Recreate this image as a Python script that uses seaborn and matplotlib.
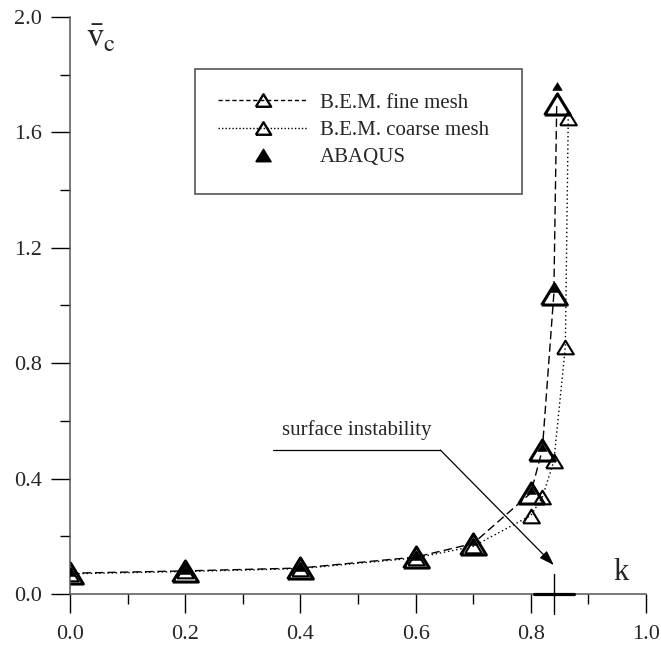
import numpy as np
import pandas as pd
import seaborn as sns
import matplotlib.pyplot as plt
from matplotlib.lines import Line2D
from matplotlib.patches import Rectangle

# values (k, normalised critical displacement)
k_fine = [0.0, 0.2, 0.4, 0.6, 0.7, 0.8, 0.82, 0.84, 0.845]
v_fine = [0.072, 0.080, 0.090, 0.128, 0.175, 0.350, 0.500, 1.040, 1.700]

k_coarse = [0.0, 0.2, 0.4, 0.6, 0.7, 0.8, 0.82, 0.84, 0.86, 0.865]
v_coarse = [0.070, 0.078, 0.088, 0.125, 0.165, 0.272, 0.335, 0.460, 0.857, 1.650]

k_abaqus = [0.0, 0.2, 0.4, 0.6, 0.7, 0.8, 0.82, 0.84, 0.845]
v_abaqus = [0.075, 0.082, 0.092, 0.132, 0.185, 0.360, 0.510, 1.060, 1.760]

k_instab = 0.84
labels = ['B.E.M. fine mesh', 'B.E.M. coarse mesh', 'ABAQUS']
xticks = [0.0, 0.2, 0.4, 0.6, 0.8, 1.0]
yticks = [0.0, 0.4, 0.8, 1.2, 1.6, 2.0]

sns.set_style('ticks')
plt.rcParams['font.family'] = ['Liberation Serif', 'DejaVu Serif']
plt.rcParams['mathtext.fontset'] = 'stix'

fine = pd.DataFrame({'k': k_fine, 'v': v_fine})
coarse = pd.DataFrame({'k': k_coarse, 'v': v_coarse})
abaqus = pd.DataFrame({'k': k_abaqus, 'v': v_abaqus})

# slightly wide triangle like the original plot
tri = [(-1.0, -0.82), (1.0, -0.82), (0.0, 0.82), (-1.0, -0.82)]

fig = plt.figure(figsize=(6.61, 6.48), dpi=100)
ax = fig.add_axes([70 / 661, 1 - 594 / 648, 576 / 661, 577 / 648])

sns.lineplot(data=coarse, x='k', y='v', estimator=None, sort=False, ax=ax,
             color='black', linestyle=(0, (1, 2)), linewidth=1.0,
             marker=tri, markersize=12, markerfacecolor='none',
             markeredgecolor='black', markeredgewidth=1.5)
sns.lineplot(data=fine, x='k', y='v', estimator=None, sort=False, ax=ax,
             color='black', linestyle=(0, (6, 3)), linewidth=1.0,
             marker=tri, markersize=18.5, markerfacecolor='none',
             markeredgecolor='black', markeredgewidth=2.2)
sns.scatterplot(data=abaqus, x='k', y='v', ax=ax, marker=tri, s=45,
                color='black', edgecolor='black', linewidth=0.5, zorder=5)

ax.set_xlim(0, 1)
ax.set_ylim(0, 2)
ax.set_xlabel('')
ax.set_ylabel('')
sns.despine(ax=ax)
for side in ['left', 'bottom']:
    ax.spines[side].set_color('#555555')
    ax.spines[side].set_linewidth(1.1)

ax.set_xticks(xticks)
ax.set_xticklabels([f'{t:.1f}' for t in xticks])
ax.set_xticks(np.arange(0.1, 1.0, 0.2), minor=True)
ax.set_yticks(yticks)
ax.set_yticklabels([f'{t:.1f}' for t in yticks])
ax.set_yticks(np.arange(0.2, 2.0, 0.4), minor=True)
ax.tick_params(which='major', length=13.5, width=1.0, color='black',
               labelsize=16, pad=7)
ax.tick_params(axis='x', which='major', pad=9)
ax.tick_params(which='minor', length=7, width=1.0, color='black')

ax.text(0.027, 1.895, r'$\bar{\mathrm{v}}_{\mathrm{c}}$', fontsize=25)
ax.text(0.957, 0.075, 'k', fontsize=22, ha='center', va='center')

# surface instability mark on the k axis
ax.plot([0.806, 0.875], [0, 0], color='black', lw=2.3, clip_on=False, zorder=6)
ax.plot([k_instab, k_instab], [-0.07, 0.07], color='black', lw=1.0,
        clip_on=False, zorder=6)
ax.plot([0.353, 0.643], [0.499, 0.499], color='black', lw=0.9)
ax.annotate('', xy=(k_instab, 0.10), xytext=(0.643, 0.499),
            arrowprops=dict(arrowstyle='-|>,head_length=0.6,head_width=0.2',
                            color='black', lw=0.9, mutation_scale=15,
                            shrinkA=0, shrinkB=0))
ax.text(0.497, 0.567, 'surface instability', fontsize=15,
        ha='center', va='center')

# legend, with its frame drawn as a plain rectangle
ax.add_patch(Rectangle((0.217, 0.693), 0.568, 0.217, transform=ax.transAxes,
                       fill=False, edgecolor='#555555', lw=1.2, zorder=4))
handles = [
    Line2D([], [], color='black', linestyle=(0, (3, 2)), lw=1.0, marker=tri,
           markersize=11, mfc='none', mec='black', mew=1.7),
    Line2D([], [], color='black', linestyle=(0, (1, 1.5)), lw=1.0, marker=tri,
           markersize=11, mfc='none', mec='black', mew=1.7),
    Line2D([], [], color='black', linestyle='none', marker=tri,
           markersize=11, mfc='black', mec='black'),
]
ax.legend(handles, labels, loc='upper left', bbox_to_anchor=(0.257, 0.868),
          frameon=False, fontsize=15, handlelength=4.3, handletextpad=0.58,
          labelspacing=0.37, borderpad=0, borderaxespad=0)

fig.savefig('out.png', dpi=100)
